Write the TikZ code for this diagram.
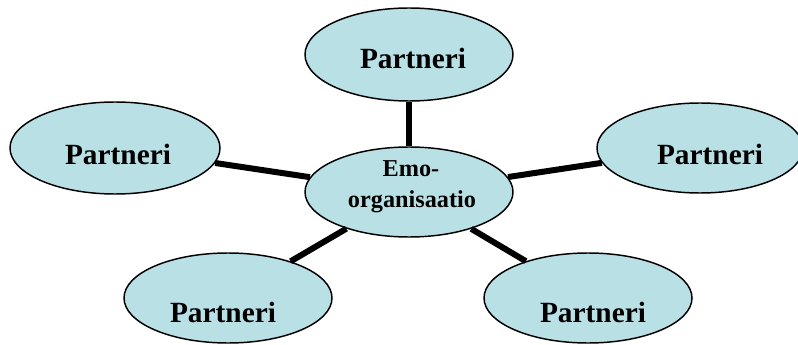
\documentclass[tikz,border=0pt]{standalone}
\usepackage{fontspec}
\setmainfont{Liberation Serif}
\usetikzlibrary{shapes.geometric}
\definecolor{bubble}{RGB}{185,224,229}
\tikzset{
  bubble/.style={ellipse, draw=black, line width=1.1pt, fill=bubble,
    inner sep=0pt, minimum width=#1*0.75pt},
  bubble/.default=208,
  link/.style={line width=4.5pt, black},
  partner/.style={anchor=base, inner sep=0pt, font=\bfseries\fontsize{22}{26}\selectfont},
  hub/.style={anchor=base, inner sep=0pt, font=\bfseries\fontsize{18.2}{22}\selectfont}
}
\begin{document}
\begin{tikzpicture}[x=0.75pt, y=-0.75pt]
\useasboundingbox (0,0) rectangle (798,345);
% ellipses
\node[bubble, minimum height=93*0.75pt] (top) at (409,54.5) {};
\node[bubble, minimum height=90*0.75pt] (hub) at (409,192) {};
\node[bubble=210, minimum height=92*0.75pt] (left) at (115,148) {};
\node[bubble=206, minimum height=90*0.75pt] (right) at (700,148) {};
\node[bubble, minimum height=90*0.75pt] (bl) at (228,298) {};
\node[bubble, minimum height=90*0.75pt] (br) at (588,298) {};
% connectors
\draw[link] (top) -- (hub);
\draw[link] (left) -- (hub);
\draw[link] (right) -- (hub);
\draw[link] (bl) -- (hub);
\draw[link] (br) -- (hub);
% labels
\node[partner] (ttop) at (413,69) {Partneri};
\node[partner] (tleft) at (118,165) {Partneri};
\node[partner] (tright) at (710,165) {Partneri};
\node[partner] (tbl) at (223,322) {Partneri};
\node[partner] (tbr) at (593,322) {Partneri};
\node[hub] (thub1) at (411,177) {Emo-};
\node[hub] (thub2) at (412,208) {organisaatio};
\end{tikzpicture}
\end{document}
